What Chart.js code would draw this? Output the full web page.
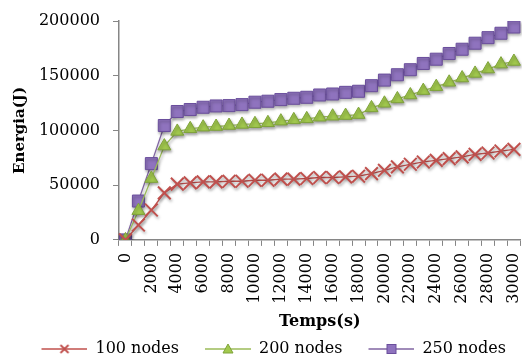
<!DOCTYPE html>
<html>
<head>
<meta charset="utf-8">
<script src="https://cdn.jsdelivr.net/npm/chart.js@4/dist/chart.umd.min.js"></script>
<style>
html,body{margin:0;padding:0;background:#fff;}
#wrap{width:522px;height:358px;position:relative;}
</style>
</head>
<body>
<div id="wrap"><canvas id="c" width="522" height="358"></canvas></div>
<script>
// ---- data ----
const categories = [0,1000,2000,3000,4000,5000,6000,7000,8000,9000,10000,11000,12000,13000,14000,15000,16000,17000,18000,19000,20000,21000,22000,23000,24000,25000,26000,27000,28000,29000,30000];
const nodes100 = [0,13600,27300,43000,50900,52100,53000,53000,53600,53600,54500,54500,55500,55500,56100,57000,57000,57600,58200,60600,63600,66700,69100,71200,72700,74200,75800,78200,79400,81200,82700];
const nodes200 = [0,26700,56000,85700,99100,101500,103000,103600,104500,105500,106100,107000,108500,109700,110600,112100,113000,113600,114500,120600,124800,128800,132400,136400,140000,144000,147900,152100,156100,160600,163000];
const nodes250 = [0,35500,69700,104500,117300,119100,121200,122400,122700,123600,125800,126700,128200,129400,130300,132400,133300,134800,135800,140900,146000,150900,155500,161200,165100,170300,174200,179700,184800,188800,194500];
const seriesNames = ['100 nodes','200 nodes','250 nodes'];
const yTicks = [0,50000,100000,150000,200000];
const xTickLabels = categories.map((c,i)=> i%2===0 ? String(c) : '');

const FONT = "'DejaVu Serif', serif";
const AXIS = '#868686';

const styles = [
  {line:'#C0504D', fill:'#C0504D', border:'#C0504D', point:'crossRot', r:9, bw:2},
  {line:'#9BBB59', fill:'#A2C94E', border:'#7FA33A', point:'triangle', r:7.5, bw:1},
  {line:'#8064A2', fill:'#8F73BE', border:'#6A4E9C', point:'rect', r:8.5, bw:1}
];

function legendIcon(s){
  const W = 62, H = 16;
  const cv = document.createElement('canvas');
  cv.width = W; cv.height = H;
  const g = cv.getContext('2d');
  g.strokeStyle = s.line; g.lineWidth = 1.3;
  g.beginPath(); g.moveTo(16, H/2); g.lineTo(W, H/2); g.stroke();
  const cx = 16 + 23, cy = H/2;
  g.fillStyle = s.fill; g.strokeStyle = s.border; g.lineWidth = 1;
  if (s.point === 'crossRot') {
    g.strokeStyle = s.fill; g.lineWidth = 1.8;
    g.beginPath(); g.moveTo(cx-4,cy-4); g.lineTo(cx+4,cy+4); g.moveTo(cx+4,cy-4); g.lineTo(cx-4,cy+4); g.stroke();
  } else if (s.point === 'triangle') {
    g.beginPath(); g.moveTo(cx,cy-5); g.lineTo(cx+5,cy+4); g.lineTo(cx-5,cy+4); g.closePath(); g.fill(); g.stroke();
  } else {
    g.fillRect(cx-4.5,cy-4.5,9,9); g.strokeRect(cx-4.5,cy-4.5,9,9);
  }
  return cv;
}

const allData = [nodes100, nodes200, nodes250];
const datasets = allData.map((d,i)=>({
  label: seriesNames[i],
  data: d,
  borderColor: styles[i].line,
  borderWidth: 1.3,
  backgroundColor: styles[i].fill,
  pointStyle: styles[i].point,
  pointRadius: styles[i].r,
  pointBackgroundColor: styles[i].fill,
  pointBorderColor: styles[i].border,
  pointBorderWidth: styles[i].bw,
  tension: 0,
  fill: false
}));

const shadowPlugin = {
  id: 'shadow',
  beforeDatasetsDraw(chart){
    const ctx = chart.ctx; ctx.save();
    ctx.shadowColor = 'rgba(0,0,0,0.35)';
    ctx.shadowBlur = 3; ctx.shadowOffsetX = 1; ctx.shadowOffsetY = 2;
  },
  afterDatasetsDraw(chart){ chart.ctx.restore(); }
};

new Chart(document.getElementById('c'), {
  type: 'line',
  data: { labels: categories.map(String), datasets },
  plugins: [shadowPlugin],
  options: {
    responsive: false,
    animation: false,
    layout: { autoPadding: false, padding: { top: 21, left: 11, right: 1.6, bottom: -9 } },
    plugins: {
      tooltip: { enabled: false },
      legend: {
        position: 'bottom',
        labels: {
          usePointStyle: true,
          pointStyleWidth: 62,
          padding: 10,
          color: '#000',
          font: { family: FONT, size: 16 },
          generateLabels(chart){
            return seriesNames.map((n,i)=>({
              text: n, pointStyle: legendIcon(styles[i]), fillStyle: styles[i].fill,
              strokeStyle: styles[i].line, lineWidth: 0, hidden: false, datasetIndex: i, fontColor: '#000'
            }));
          }
        }
      }
    },
    scales: {
      x: {
        type: 'category',
        offset: true,
        afterFit(axis){ axis.paddingRight = 0; axis.paddingLeft = 0; },
        grid: { display: true, offset: true, drawOnChartArea: false, drawTicks: true, tickLength: 6, color: AXIS },
        border: { display: true, color: AXIS, width: 1.5 },
        ticks: {
          autoSkip: false, minRotation: 90, maxRotation: 90, padding: 7, color: '#000',
          font: { family: FONT, size: 16 },
          callback: (v, i) => xTickLabels[i]
        },
        title: { display: true, text: 'Temps(s)', color: '#000', font: { family: FONT, size: 16, weight: 'bold' }, padding: { top: 1, bottom: 0 } }
      },
      y: {
        min: 0, max: 200000,
        afterBuildTicks(axis){ axis.ticks = yTicks.map(v=>({value:v})); },
        afterFit(axis){ axis.width = 108; axis.paddingTop = 0; axis.paddingBottom = 0; },
        grid: { display: true, drawOnChartArea: false, drawTicks: true, tickLength: 6, color: AXIS },
        border: { display: true, color: AXIS, width: 1.5 },
        ticks: { padding: 13, color: '#000', font: { family: FONT, size: 16 }, callback: v => String(v) },
        title: { display: true, text: 'Energia(J)', color: '#000', font: { family: FONT, size: 15, weight: 'bold' }, padding: 0 }
      }
    }
  }
});
</script>
</body>
</html>
